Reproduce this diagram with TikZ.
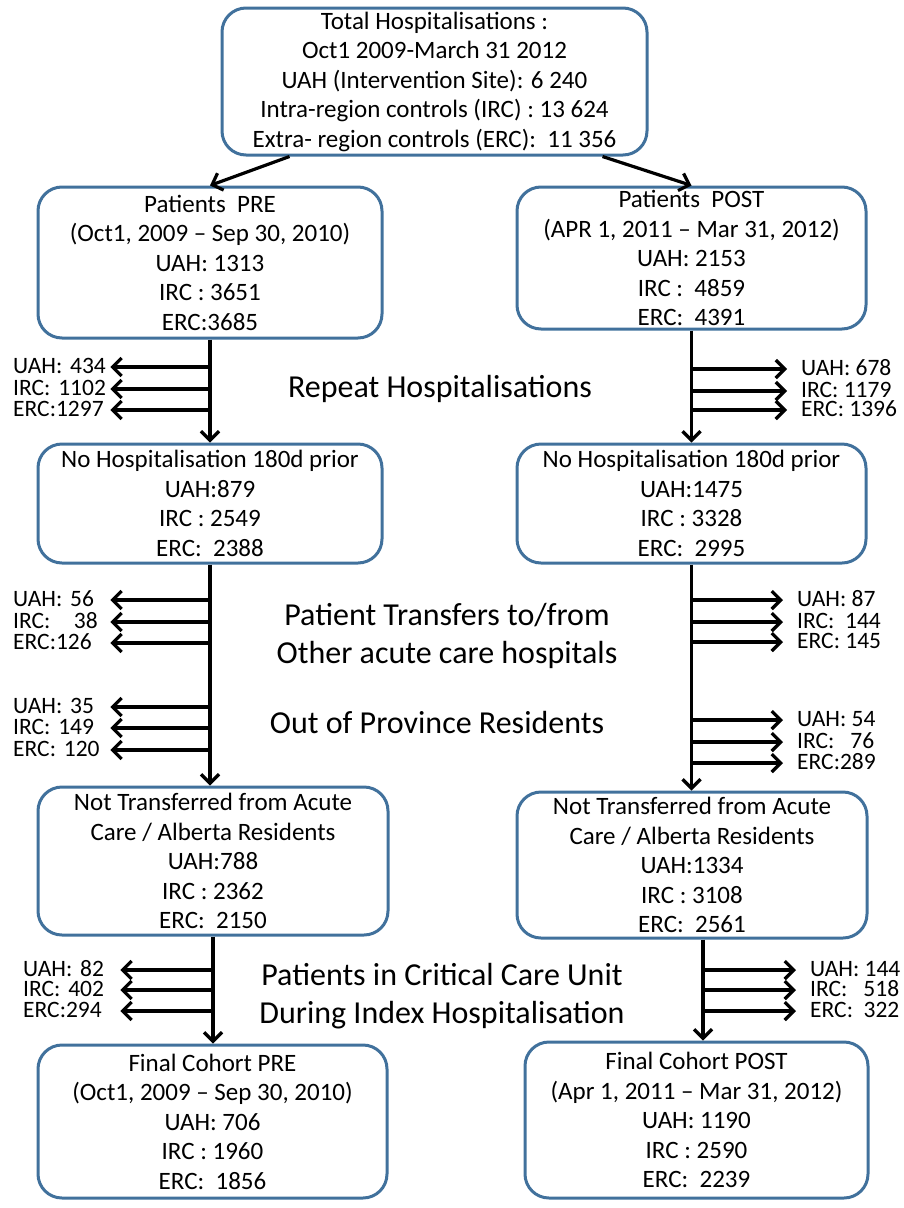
\documentclass[tikz,border=0pt]{standalone}
\usepackage{fontspec}
\setmainfont{Carlito}
\usepackage{xcolor}
\usepackage{tikz}
\usetikzlibrary{positioning}
\usetikzlibrary{arrows.meta}
\usetikzlibrary{calc}
\definecolor{boxblue}{RGB}{65,113,156}
\tikzstyle{box}=[rectangle,rounded corners=24pt,draw=boxblue,line width=3pt,align=center,inner sep=0pt,font=\fontsize{25}{29.5}\selectfont]
\tikzstyle{edge} = [draw,line width=3.2pt,-{Straight Barb[length=9pt,width=18pt]}]
\tikzstyle{cnt}=[font=\fontsize{23.5}{21}\selectfont,inner sep=0pt,text height=14pt,text depth=2pt,anchor=west]
\tikzstyle{lcnt}=[cnt,text width=97pt,align=left]
\tikzstyle{rcnt}=[cnt,inner xsep=14pt]
\tikzset{caption/.style={font=\fontsize{32}{38}\selectfont,align=center}}

\begin{document}
\begin{tikzpicture}[x=1pt,y=-1pt]

  \useasboundingbox (0,0) rectangle (904,1208);

   \foreach \x/\y/\w/\h/\name/\label in {434.5/81.5/425/147/top/{Total Hospitalisations :\\Oct1 2009-March 31 2012\\UAH (Intervention Site): 6 240\\Intra-region controls (IRC) : 13 624\\Extra- region controls (ERC):\ \ 11 356},
        210/262.5/344/151/pre/{Patients\ \ PRE\\(Oct1, 2009 – Sep 30, 2010)\\UAH: 1313\\IRC : 3651\\ERC:3685},
        691.5/258/349/142/post/{Patients\ \ POST\\(APR 1, 2011 – Mar 31, 2012)\\UAH: 2153\\IRC :\ \ 4859\\ERC:\ \ 4391}}
          \node[box,minimum width=\w pt,minimum height=\h pt] (\name) at (\x,\y) {\label};

   \foreach \x/\y/\w/\h/\name/\label in {210/503.5/344/119/nhpre/{No Hospitalisation 180d prior\\UAH:879\\IRC : 2549\\ERC:\ \ 2388},
        691.5/503.5/349/119/nhpost/{No Hospitalisation 180d prior\\UAH:1475\\IRC : 3328\\ERC:\ \ 2995}}
          \node[box,minimum width=\w pt,minimum height=\h pt] (\name) at (\x,\y) {\label};

   \foreach \x/\y/\w/\h/\name/\label in {213/861/350/148/ntpre/{Not Transferred from Acute\\Care / Alberta Residents\\UAH:788\\IRC : 2362\\ERC:\ \ 2150},
        692/865/350/146/ntpost/{Not Transferred from Acute\\Care / Alberta Residents\\UAH:1334\\IRC : 3108\\ERC:\ \ 2561}}
          \node[box,minimum width=\w pt,minimum height=\h pt] (\name) at (\x,\y) {\label};

   \foreach \x/\y/\w/\h/\name/\label in {212.5/1121.5/349/153/fcpre/{Final Cohort PRE\\(Oct1, 2009 – Sep 30, 2010)\\UAH: 706\\IRC : 1960\\ERC:\ \ 1856},
        696.5/1120/343/156/fcpost/{Final Cohort POST\\(Apr 1, 2011 – Mar 31, 2012)\\UAH: 1190\\IRC : 2590\\ERC:\ \ 2239}}
          \node[box,minimum width=\w pt,minimum height=\h pt] (\name) at (\x,\y) {\label};

  % exclusion counts
   \foreach \x/\y/\name/\label in {13/367/l11/UAH: 434, 13/389/l12/IRC: 1102, 13/410/l13/ERC:1297,
        13/600/l21/UAH: 56, 13/622/l22/IRC:\ \ \ 38, 13/643/l23/ERC:126,
        13/707/l31/UAH: 35, 13/728/l32/IRC: 149, 13/750/l33/ERC: 120,
        23/970/l41/UAH: 82, 23/990/l42/IRC: 402, 23/1011/l43/ERC:294}
          \node[lcnt] (\name) at (\x,\y) {\label};

   \foreach \x/\y/\name/\label in {787/369/r11/UAH: 678, 787/391/r12/IRC: 1179, 787/410/r13/ERC: 1396,
        783/600/r21/UAH: 87, 783/622/r22/IRC:\ \ 144, 783/642/r23/ERC: 145,
        783/720/r31/UAH: 54, 783/742/r32/IRC:\ \ \ 76, 783/763/r33/ERC:289,
        796/970/r41/UAH: 144, 796/990/r42/IRC:\ \ \ 518, 796/1011/r43/ERC:\ \ 322}
          \node[rcnt] (\name) at (\x,\y) {\label};

  % exclusion reasons
   \node[caption] (rep) at (440,389) {Repeat Hospitalisations};
   \node[caption] (trf) at (447,636) {Patient Transfers to/from\\Other acute care hospitals};
   \node[caption] (oop) at (437,722) {Out of Province Residents};
   \node[caption] (icu) at (442,996) {Patients in Critical Care Unit\\During Index Hospitalisation};

  \path[edge] ($(top.south)+(-145,0)$) -- (pre.north);
  \path[edge] ($(top.south)+(168,0)$) -- (post.north);

  \foreach \source/ \dest in {pre/nhpre, post/nhpost, nhpre/ntpre, nhpost/ntpost, ntpre/fcpre}
         \path[edge] (\source.south) -- (\source.south |- \dest.north);

  \coordinate (rc) at ($(ntpost.south)+(11,0)$);
  \path[edge] (rc) -- (rc |- fcpost.north);

  \foreach \source/ \dest in {pre/l11, pre/l12, pre/l13, nhpre/l21, nhpre/l22, nhpre/l23, nhpre/l31, nhpre/l32, nhpre/l33, ntpre/l41, ntpre/l42, ntpre/l43}
         \path[edge] (\source.south |- \dest) -- (\dest.east);

  \foreach \source/ \dest in {post/r11, post/r12, post/r13, nhpost/r21, nhpost/r22, nhpost/r23, nhpost/r31, nhpost/r32, nhpost/r33, rc/r41, rc/r42, rc/r43}
         \path[edge] (\source |- \dest) -- (\dest.west);

\end{tikzpicture}
\end{document}
